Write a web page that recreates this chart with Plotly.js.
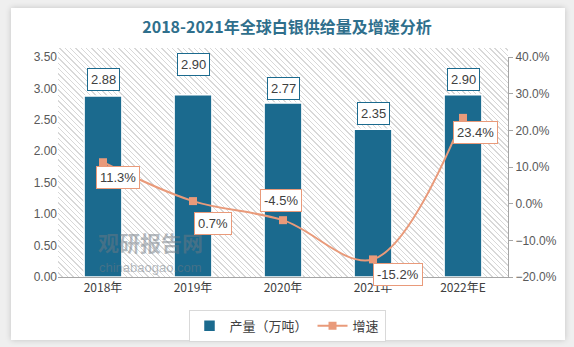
<!DOCTYPE html>
<html><head><meta charset="utf-8">
<script src="https://cdn.plot.ly/plotly-3.0.1.min.js"></script>
<style>
html,body{margin:0;padding:0;background:#efefef;width:574px;height:347px;overflow:hidden;}
#card{position:absolute;left:11px;top:8px;width:554px;height:332px;background:#fff;box-shadow:0 0 6px rgba(0,0,0,0.18);}
#hatch{position:absolute;left:58px;top:48px;width:450px;height:229px;
background:repeating-linear-gradient(45deg,#ffffff 0px,#ffffff 2.8px,#d8d8d8 2.8px,#d8d8d8 3.8px);}
#chart{position:absolute;left:0;top:0;width:574px;height:347px;}
</style></head>
<body>
<div id="card"></div>
<div id="hatch"></div>
<div id="chart"></div>
<script>
const categories = ["2018年","2019年","2020年","2021年","2022年E"];
const output = [2.88, 2.90, 2.77, 2.35, 2.90];
const growth = [11.3, 0.7, -4.5, -15.2, 23.4];
const outputLabels = ["2.88","2.90","2.77","2.35","2.90"];
const growthLabels = ["11.3%","0.7%","-4.5%","-15.2%","23.4%"];
const barLabelShift = [16, 30, 14, 16, 15];
const growthLabelShift = [[15,-15],[20,-22],[-2,20],[25,-15],[12,-15]];

const barColor = "#1b6a8e";
const lineColor = "#e99a7a";
const cjk = "'Noto Sans CJK SC', 'Liberation Sans', sans-serif";

const traces = [
  {type:"bar", name:"产量（万吨）", x:categories, y:output, width:0.42,
   marker:{color:barColor, line:{color:"#ffffff", width:1.5}}, hoverinfo:"none"},
  {type:"scatter", mode:"lines+markers", name:"增速", x:categories, y:growth, yaxis:"y2",
   line:{color:lineColor, width:2, shape:"spline", smoothing:1},
   marker:{symbol:"square", size:8, color:lineColor}, hoverinfo:"none"}
];

const annotations = [];
annotations.push({xref:"paper", yref:"paper", x:0.205, xanchor:"center", y:0.16, yanchor:"middle", text:"<b>观研报告网</b>", showarrow:false,
  font:{family:cjk, size:21, color:"rgba(110,120,130,0.5)"}});
annotations.push({xref:"paper", yref:"paper", x:0.205, xanchor:"center", y:0.045, yanchor:"middle", text:"chinabaogao.com", showarrow:false,
  font:{family:"Liberation Sans, sans-serif", size:13, color:"rgba(110,120,130,0.5)"}});
categories.forEach((c,i)=>{
  annotations.push({x:c, y:output[i], xref:"x", yref:"y", text:outputLabels[i], showarrow:false,
    yshift:barLabelShift[i], font:{family:"Liberation Sans, sans-serif", size:13, color:"#404040"},
    bgcolor:"#ffffff", bordercolor:barColor, borderwidth:1, borderpad:3});
  annotations.push({x:c, y:growth[i], xref:"x", yref:"y2", text:growthLabels[i], showarrow:false,
    xshift:growthLabelShift[i][0], yshift:growthLabelShift[i][1],
    font:{family:"Liberation Sans, sans-serif", size:13, color:"#404040"},
    bgcolor:"#ffffff", bordercolor:lineColor, borderwidth:1, borderpad:3});
});

const layout = {
  width:574, height:347,
  margin:{l:58, r:66, t:57, b:70, autoexpand:false},
  paper_bgcolor:"rgba(0,0,0,0)", plot_bgcolor:"rgba(0,0,0,0)",
  title:{text:"<b>2018-2021年全球白银供给量及增速分析</b>", x:0.5, xanchor:"center", y:0.92, yanchor:"middle",
    font:{family:cjk, size:16, color:"#2f6f8c"}},
  font:{family:"Liberation Sans, sans-serif", size:12, color:"#595959"},
  xaxis:{type:"category", range:[-0.5,4.5], showline:true, linecolor:"#a6a6a6", linewidth:1,
    ticks:"", tickfont:{family:cjk, size:12, color:"#404040"}, showgrid:false, fixedrange:true},
  yaxis:{range:[0,3.5], dtick:0.5, tickformat:".2f", showgrid:false, zeroline:false, showline:false,
    ticks:"", tickfont:{size:12, color:"#595959"}},
  yaxis2:{overlaying:"y", side:"right", range:[-20,40], dtick:10, tickformat:".1f", ticksuffix:"%",
    showgrid:false, zeroline:false, showline:true, linecolor:"#a6a6a6", ticks:"outside", ticklen:4,
    tickcolor:"#a6a6a6", tickfont:{size:12, color:"#595959"}},
  bargap:0.5,
  showlegend:true,
  legend:{orientation:"h", x:0.5, xanchor:"center", xref:"container", y:0.107, yanchor:"top", yref:"container",
    bordercolor:"#d9d9d9", borderwidth:1, bgcolor:"#ffffff",
    font:{family:cjk, size:13, color:"#404040"}},
  annotations:annotations
};
Plotly.newPlot("chart", traces, layout, {staticPlot:true, displayModeBar:false});
</script>
</body></html>
